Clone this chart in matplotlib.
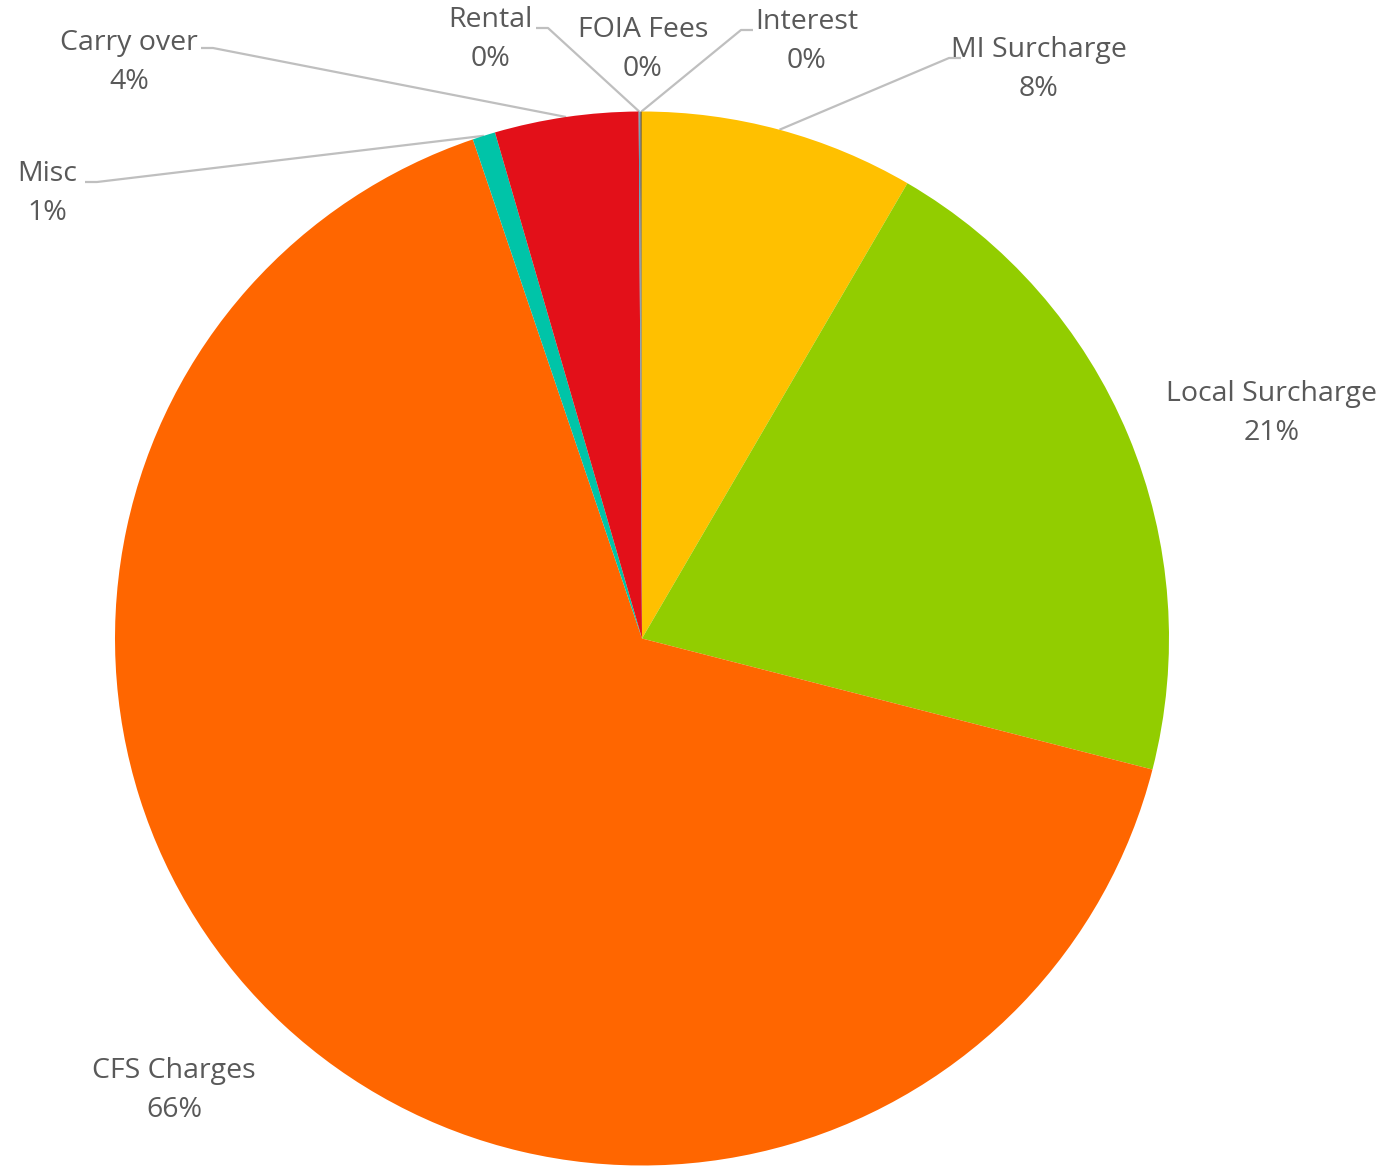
import numpy as np
import matplotlib.pyplot as plt

# Revenue breakdown (percent of total)
categories = ['MI Surcharge', 'Local Surcharge', 'CFS Charges', 'Misc',
              'Carry over', 'Rental', 'FOIA Fees', 'Interest']
shares = [8.4, 20.6, 65.8, 0.7, 4.4, 0.03, 0.04, 0.03]
colors = ['#FFC000', '#92CD00', '#FF6600', '#00C4A8',
          '#E31019', '#4A9AB8', '#7F7F7F', '#9C7A1E']

W, H = 1389, 1173
CX, CY, R = 642, 638.5, 527

# label name-line centre and leader elbow, in pixels from top-left
label_pos = [(1039, 50), (1272, 394), (174, 1071), (47, 174),
             (129, 43), (490, 20), (643, 30), (807, 22)]
elbow = [(949, 58), None, None, (97, 182),
         (213, 48), (548, 28), None, (741, 30)]


def px(x, y):
    return x, H - y


fig = plt.figure(figsize=(W / 100, H / 100), dpi=100)
ax = fig.add_axes([0, 0, 1, 1])

wedges, _ = ax.pie(shares, colors=colors, startangle=90, counterclock=False,
                   center=px(CX, CY), radius=R, wedgeprops=dict(linewidth=0))
ax.set_xlim(0, W)
ax.set_ylim(0, H)
ax.set_aspect('equal')
ax.axis('off')

txt = dict(ha='center', va='center', fontsize=20.5, color='#595959',
           family=['Open Sans', 'DejaVu Sans'])
for w, name, val, (lx, ly), el in zip(wedges, categories, shares, label_pos, elbow):
    ax.text(*px(lx, ly), name, **txt)
    ax.text(*px(lx, ly + 39), f'{round(val)}%', **txt)
    if el is None:
        continue
    # leader: short horizontal stub at the label, then to the slice's outer midpoint
    mid = np.deg2rad((w.theta1 + w.theta2) / 2)
    ex, ey = CX + R * np.cos(mid), (H - CY) + R * np.sin(mid)
    x0, y0 = px(*el)
    stub = 12 if el[0] < lx else -12
    ax.plot([x0 + stub, x0, ex], [y0, y0, ey], color='#BFBFBF', lw=1.6,
            solid_capstyle='butt', zorder=0)

fig.savefig('out.png', dpi=100)
